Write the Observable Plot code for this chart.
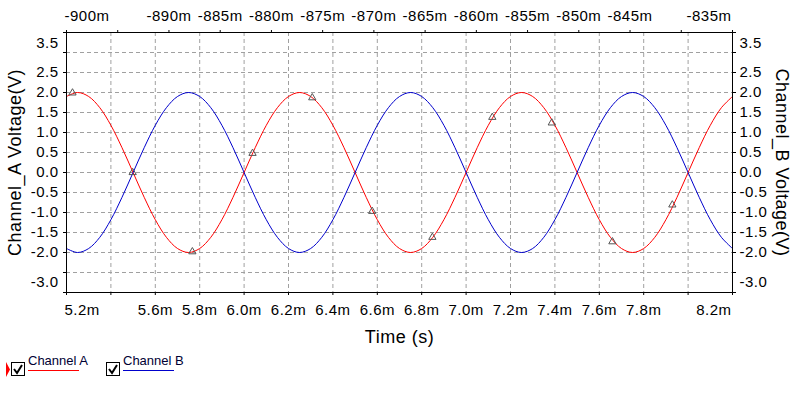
<!DOCTYPE html>
<html>
<head>
<meta charset="utf-8">
<script src="https://cdn.jsdelivr.net/npm/d3@7"></script>
<script src="https://cdn.jsdelivr.net/npm/@observablehq/plot@0.6"></script>
<style>
  html, body { margin: 0; padding: 0; background: #ffffff; }
  body { width: 795px; height: 393px; position: relative; overflow: hidden; font-family: "Liberation Sans", Arial, sans-serif; }
  #chart svg text { letter-spacing: 0.5px; }
</style>
</head>
<body>
<div id="chart"></div>
<script>
// ---- data (time in ms, voltages in V) ----
const times = [5.20,5.25,5.30,5.35,5.40,5.45,5.50,5.55,5.60,5.65,5.70,5.75,5.80,5.85,5.90,5.95,
  6.00,6.05,6.10,6.15,6.20,6.25,6.30,6.35,6.40,6.45,6.50,6.55,6.60,6.65,6.70,6.75,6.80,6.85,6.90,6.95,
  7.00,7.05,7.10,7.15,7.20,7.25,7.30,7.35,7.40,7.45,7.50,7.55,7.60,7.65,7.70,7.75,7.80,7.85,7.90,7.95,
  8.00,8.05,8.10,8.15,8.20];
const channelA = [1.90,2.00,1.90,1.62,1.18,0.62,0.00,-0.62,-1.18,-1.62,-1.90,-2.00,-1.90,-1.62,-1.18,-0.62,
  0.00,0.62,1.18,1.62,1.90,2.00,1.90,1.62,1.18,0.62,0.00,-0.62,-1.18,-1.62,-1.90,-2.00,-1.90,-1.62,-1.18,-0.62,
  0.00,0.62,1.18,1.62,1.90,2.00,1.90,1.62,1.18,0.62,0.00,-0.62,-1.18,-1.62,-1.90,-2.00,-1.90,-1.62,-1.18,-0.62,
  0.00,0.62,1.18,1.62,1.90];
const channelB = [-1.90,-2.00,-1.90,-1.62,-1.18,-0.62,0.00,0.62,1.18,1.62,1.90,2.00,1.90,1.62,1.18,0.62,
  0.00,-0.62,-1.18,-1.62,-1.90,-2.00,-1.90,-1.62,-1.18,-0.62,0.00,0.62,1.18,1.62,1.90,2.00,1.90,1.62,1.18,0.62,
  0.00,-0.62,-1.18,-1.62,-1.90,-2.00,-1.90,-1.62,-1.18,-0.62,0.00,0.62,1.18,1.62,1.90,2.00,1.90,1.62,1.18,0.62,
  0.00,-0.62,-1.18,-1.62,-1.90];
const markerTimes  = [5.227,5.498,5.767,6.038,6.307,6.577,6.848,7.118,7.386,7.659,7.929];
const markerValues = [1.99,0.00,-1.98,0.48,1.87,-0.97,-1.62,1.38,1.24,-1.73,-0.81];

// ---- ticks / labels ----
const xTicks = [5.2,5.4,5.6,5.8,6.0,6.2,6.4,6.6,6.8,7.0,7.2,7.4,7.6,7.8,8.0,8.2];
const xLabels = [5.6,5.8,6.0,6.2,6.4,6.6,6.8,7.0,7.2,7.4,7.6,7.8];
const xFirstLabel = [5.2];
const xLastLabel = [8.2];
const yTicks = [-3.0,-2.5,-2.0,-1.5,-1.0,-0.5,0.0,0.5,1.0,1.5,2.0,2.5,3.0,3.5];
const yLabels = [-2.0,-1.5,-1.0,-0.5,0.0,0.5,1.0,1.5,2.0,2.5];
const yTopLabel = [3.5];
const yBottomLabel = [-3.0];
const topTicks = [-900,-895,-890,-885,-880,-875,-870,-865,-860,-855,-850,-845,-840,-835];
const topLabels = [-890,-885,-880,-875,-870,-865,-860,-855,-850,-845];
const topFirstLabel = [-900];
const topLastLabel = [-835];
const titleX = "Time (s)";
const titleYLeft = "Channel_A Voltage(V)";
const titleYRight = "Channel_B Voltage(V)";

// secondary (top) axis: linear map of its domain onto the time domain
const xDomain = [5.2, 8.2];
const topDomain = [-900, -835];
const toX = v => xDomain[0] + (v - topDomain[0]) * (xDomain[1] - xDomain[0]) / (topDomain[1] - topDomain[0]);

const dataA = times.map((t, i) => ({t, v: channelA[i]}));
const dataB = times.map((t, i) => ({t, v: channelB[i]}));
const markers = markerTimes.map((t, i) => ({t, v: markerValues[i]}));

const fmtX = d => d.toFixed(1) + "m";
const fmtY = d => d.toFixed(1);
const fmtTop = d => d + "m";
const FS = 15;

const chart = Plot.plot({
  width: 795,
  height: 350,
  marginLeft: 66,
  marginRight: 63,
  marginTop: 32,
  marginBottom: 58,
  style: {background: "#ffffff", color: "#000000", fontFamily: "'Liberation Sans', Arial, sans-serif", fontSize: "15px", overflow: "visible"},
  x: {domain: xDomain},
  y: {domain: [-3, 3.5]},
  marks: [
    Plot.gridX({ticks: xTicks.slice(1, -1), stroke: "#a0a0a0", strokeOpacity: 1, strokeDasharray: "4,3"}),
    Plot.gridY({ticks: yTicks.slice(1, -1), stroke: "#a0a0a0", strokeOpacity: 1, strokeDasharray: "4,3"}),
    Plot.line(dataA, {x: "t", y: "v", stroke: "#ff0000", strokeWidth: 1, curve: "catmull-rom"}),
    Plot.line(dataB, {x: "t", y: "v", stroke: "#0000cc", strokeWidth: 1, curve: "catmull-rom"}),
    Plot.dot(markers, {x: "t", y: "v", symbol: "triangle", r: 2.7, stroke: "#555555", fill: "none", strokeWidth: 1}),
    Plot.frame({stroke: "#000000"}),
    // tick marks
    Plot.axisX({anchor: "bottom", ticks: xTicks, tickSize: 3, tickFormat: () => "", label: null}),
    Plot.axisX({anchor: "top", ticks: topTicks.map(toX), tickSize: 3, tickFormat: () => "", label: null}),
    Plot.axisY({anchor: "left", ticks: yTicks, tickSize: 3, tickFormat: () => "", label: null}),
    Plot.axisY({anchor: "right", ticks: yTicks, tickSize: 3, tickFormat: () => "", label: null}),
    // bottom labels
    Plot.text(xLabels, {x: d => d, text: fmtX, frameAnchor: "bottom", lineAnchor: "middle", dy: 18, fontSize: FS}),
    Plot.text(xFirstLabel, {x: d => d, text: fmtX, frameAnchor: "bottom", lineAnchor: "middle", dy: 18, dx: -2, textAnchor: "start", fontSize: FS}),
    Plot.text(xLastLabel, {x: d => d, text: fmtX, frameAnchor: "bottom", lineAnchor: "middle", dy: 18, dx: -1, textAnchor: "end", fontSize: FS}),
    // top labels
    Plot.text(topLabels, {x: d => toX(d), text: fmtTop, frameAnchor: "top", lineAnchor: "middle", dy: -16, fontSize: FS}),
    Plot.text(topFirstLabel, {x: d => toX(d), text: fmtTop, frameAnchor: "top", lineAnchor: "middle", dy: -16, dx: -2, textAnchor: "start", fontSize: FS}),
    Plot.text(topLastLabel, {x: d => toX(d), text: fmtTop, frameAnchor: "top", lineAnchor: "middle", dy: -16, dx: -1, textAnchor: "end", fontSize: FS}),
    // left labels
    Plot.text(yLabels, {y: d => d, text: fmtY, frameAnchor: "left", lineAnchor: "middle", dx: -8, textAnchor: "end", fontSize: FS}),
    Plot.text(yTopLabel, {y: d => d, text: fmtY, frameAnchor: "left", lineAnchor: "middle", dx: -8, dy: 11, textAnchor: "end", fontSize: FS}),
    Plot.text(yBottomLabel, {y: d => d, text: fmtY, frameAnchor: "left", lineAnchor: "middle", dx: -8, dy: -10, textAnchor: "end", fontSize: FS}),
    // right labels
    Plot.text(yLabels, {y: d => d, text: fmtY, frameAnchor: "right", lineAnchor: "middle", dx: 7, textAnchor: "start", fontSize: FS}),
    Plot.text(yTopLabel, {y: d => d, text: fmtY, frameAnchor: "right", lineAnchor: "middle", dx: 7, dy: 11, textAnchor: "start", fontSize: FS}),
    Plot.text(yBottomLabel, {y: d => d, text: fmtY, frameAnchor: "right", lineAnchor: "middle", dx: 7, dy: -10, textAnchor: "start", fontSize: FS}),
    // titles
    Plot.text([titleX], {text: d => d, frameAnchor: "bottom", lineAnchor: "middle", textAnchor: "middle", dy: 45, fontSize: 18}),
    Plot.text([titleYLeft], {text: d => d, frameAnchor: "left", lineAnchor: "middle", textAnchor: "middle", dx: -51, rotate: -90, fontSize: 18}),
    Plot.text([titleYRight], {text: d => d, frameAnchor: "right", lineAnchor: "middle", textAnchor: "middle", dx: 49, rotate: 90, fontSize: 18})
  ]
});
document.getElementById("chart").appendChild(chart);

// ---- legend (below the plot) ----
const legendItems = [
  {name: "Channel A", color: "#ff0000", x: 11},
  {name: "Channel B", color: "#0000cc", x: 106}
];
const ns = "http://www.w3.org/2000/svg";
const leg = document.createElementNS(ns, "svg");
leg.setAttribute("width", 260);
leg.setAttribute("height", 41);
leg.style.position = "absolute";
leg.style.left = "0px";
leg.style.top = "352px";
const mk = (tag, attrs) => { const e = document.createElementNS(ns, tag); for (const k in attrs) e.setAttribute(k, attrs[k]); leg.appendChild(e); return e; };
mk("path", {d: "M6,10 L10,17.5 L6,25 Z", fill: "#ff0000"});
legendItems.forEach(it => {
  mk("rect", {x: it.x + 0.5, y: 10.5, width: 13, height: 13, fill: "#ffffff", stroke: "#000000"});
  mk("path", {d: `M${it.x + 3},${17} L${it.x + 6},${21} L${it.x + 11},${13}`, fill: "none", stroke: "#000000", "stroke-width": 2});
  const t = mk("text", {x: it.x + 17, y: 13, "font-size": 13, fill: "#000033", "font-family": "'Liberation Sans', Arial, sans-serif"});
  t.textContent = it.name;
  mk("line", {x1: it.x + 17, x2: it.x + 68, y1: 18.5, y2: 18.5, stroke: it.color, "stroke-width": 1});
});
document.body.appendChild(leg);
</script>
</body>
</html>
